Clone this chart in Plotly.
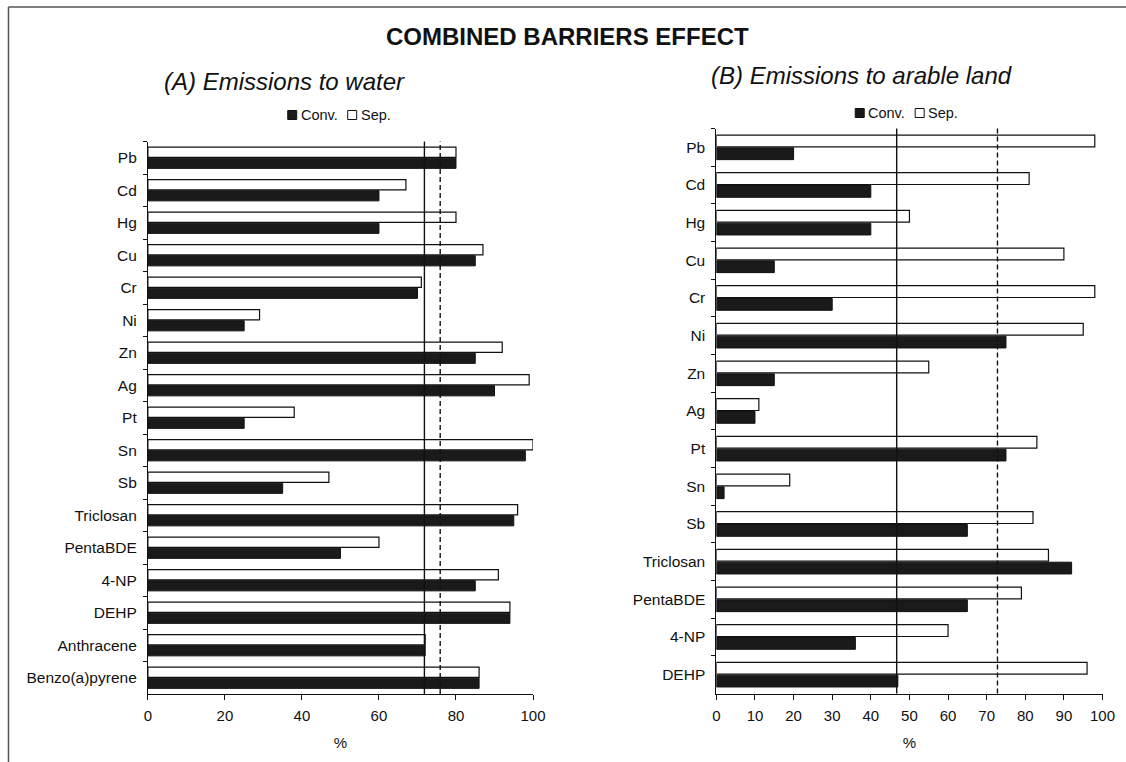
import plotly.graph_objects as go

# ---- data ----
cats_a = ["Pb", "Cd", "Hg", "Cu", "Cr", "Ni", "Zn", "Ag", "Pt", "Sn", "Sb",
          "Triclosan", "PentaBDE", "4-NP", "DEHP", "Anthracene", "Benzo(a)pyrene"]
conv_a = [80, 60, 60, 85, 70, 25, 85, 90, 25, 98, 35, 95, 50, 85, 94, 72, 86]
sep_a = [80, 67, 80, 87, 71, 29, 92, 99, 38, 100, 47, 96, 60, 91, 94, 72, 86]
solid_a = 71.8
dashed_a = 75.9

cats_b = ["Pb", "Cd", "Hg", "Cu", "Cr", "Ni", "Zn", "Ag", "Pt", "Sn", "Sb",
          "Triclosan", "PentaBDE", "4-NP", "DEHP"]
conv_b = [20, 40, 40, 15, 30, 75, 15, 10, 75, 2, 65, 92, 65, 36, 47]
sep_b = [98, 81, 50, 90, 98, 95, 55, 11, 83, 19, 82, 86, 79, 60, 96]
solid_b = 46.7
dashed_b = 72.8

xticks_a = [0, 20, 40, 60, 80, 100]
xticks_b = [0, 10, 20, 30, 40, 50, 60, 70, 80, 90, 100]

W, H = 1142, 762
FONT = "Arial, Liberation Sans, Helvetica, sans-serif"
INK = "#111111"

fig = go.Figure()

def add_bars(cats, sep, conv, xa, ya):
    # Sep first -> drawn on top within each group (reversed category axis)
    fig.add_trace(go.Bar(y=cats, x=sep, orientation="h", name="Sep.",
                         marker=dict(color="white", line=dict(color=INK, width=1.2)),
                         xaxis=xa, yaxis=ya, showlegend=False))
    fig.add_trace(go.Bar(y=cats, x=conv, orientation="h", name="Conv.",
                         marker=dict(color="#1a1a1a", line=dict(color=INK, width=1)),
                         xaxis=xa, yaxis=ya, showlegend=False))

add_bars(cats_a, sep_a, conv_a, "x", "y")
add_bars(cats_b, sep_b, conv_b, "x2", "y2")

# horizontal compensation for the capture (observed ~0.986 horizontal squeeze)
SX, OX = 0.986, 3.0

def px_x(p):
    return ((p - OX) / SX) / W

def px_y(p):
    return 1 - p / H

xcommon = dict(range=[0, 100], showgrid=False, zeroline=False, showline=True,
               linecolor=INK, linewidth=1, ticks="outside", ticklen=5,
               tickcolor=INK, tickfont=dict(family=FONT, size=15, color=INK),
               ticklabelstandoff=3,
               title=dict(text="%", font=dict(family=FONT, size=15, color=INK), standoff=14))
ycommon = dict(type="category", autorange="reversed", showgrid=False, zeroline=False,
               showline=True, linecolor=INK, linewidth=1, ticks="outside", ticklen=4,
               tickcolor=INK, tickson="boundaries",
               tickfont=dict(family=FONT, size=15.5, color=INK), ticklabelstandoff=7)

fig.update_layout(
    width=W, height=H,
    margin=dict(l=0, r=0, t=0, b=0),
    paper_bgcolor="white", plot_bgcolor="white",
    barmode="group", bargap=0.32, bargroupgap=0.08,
    xaxis=dict(domain=[px_x(147), px_x(532.5)], anchor="y", tickvals=xticks_a, **xcommon),
    yaxis=dict(domain=[px_y(694), px_y(141.5)], anchor="x",
               categoryorder="array", categoryarray=cats_a, **ycommon),
    xaxis2=dict(domain=[px_x(716), px_x(1102.5)], anchor="y2", tickvals=xticks_b, **xcommon),
    yaxis2=dict(domain=[px_y(693.5), px_y(128.5)], anchor="x2",
                categoryorder="array", categoryarray=cats_b, **ycommon),
    showlegend=False,
)

shapes = []
for xref, yref, s, d in [("x", "y domain", solid_a, dashed_a), ("x2", "y2 domain", solid_b, dashed_b)]:
    shapes.append(dict(type="line", xref=xref, yref=yref, x0=s, x1=s, y0=0, y1=1,
                       line=dict(color=INK, width=1.4)))
    shapes.append(dict(type="line", xref=xref, yref=yref, x0=d, x1=d, y0=0, y1=1,
                       line=dict(color=INK, width=1.4, dash="5px,3px")))

# page frame (top and left)
shapes.append(dict(type="line", xref="paper", yref="paper", x0=px_x(7.5), x1=1, y0=px_y(7), y1=px_y(7),
                   line=dict(color="#555555", width=1.5)))
shapes.append(dict(type="line", xref="paper", yref="paper", x0=px_x(7.5), x1=px_x(7.5), y0=0, y1=px_y(7),
                   line=dict(color="#555555", width=1.5)))

annotations = [
    dict(text="<b>COMBINED BARRIERS EFFECT</b>", x=px_x(567.5), y=px_y(36), xref="paper", yref="paper",
         showarrow=False, font=dict(family=FONT, size=24, color=INK), xanchor="center", yanchor="middle"),
    dict(text="<i>(A) Emissions to water</i>", x=px_x(284), y=px_y(82), xref="paper", yref="paper",
         showarrow=False, font=dict(family=FONT, size=24, color=INK), xanchor="center", yanchor="middle"),
    dict(text="<i>(B) Emissions to arable land</i>", x=px_x(861), y=px_y(76), xref="paper", yref="paper",
         showarrow=False, font=dict(family=FONT, size=24, color=INK), xanchor="center", yanchor="middle"),
]

# legends (square swatches + labels)
def add_legend(x0, yc):
    sq = 9
    shapes.append(dict(type="rect", xref="paper", yref="paper",
                       x0=px_x(x0), x1=px_x(x0 + sq), y0=px_y(yc + sq / 2), y1=px_y(yc - sq / 2),
                       fillcolor="#1a1a1a", line=dict(color=INK, width=1)))
    annotations.append(dict(text="Conv.", x=px_x(x0 + sq + 2), y=px_y(yc), xref="paper", yref="paper",
                            showarrow=False, xanchor="left", yanchor="middle",
                            font=dict(family=FONT, size=14.5, color=INK)))
    x1 = x0 + 60
    shapes.append(dict(type="rect", xref="paper", yref="paper",
                       x0=px_x(x1), x1=px_x(x1 + sq), y0=px_y(yc + sq / 2), y1=px_y(yc - sq / 2),
                       fillcolor="white", line=dict(color=INK, width=1)))
    annotations.append(dict(text="Sep.", x=px_x(x1 + sq + 2), y=px_y(yc), xref="paper", yref="paper",
                            showarrow=False, xanchor="left", yanchor="middle",
                            font=dict(family=FONT, size=14.5, color=INK)))

add_legend(287, 115)
add_legend(855, 113)

fig.update_layout(shapes=shapes, annotations=annotations)
fig.write_html("out.html", config={"displayModeBar": False},
               post_script="document.body.style.margin='0px';document.body.style.overflow='hidden';")
